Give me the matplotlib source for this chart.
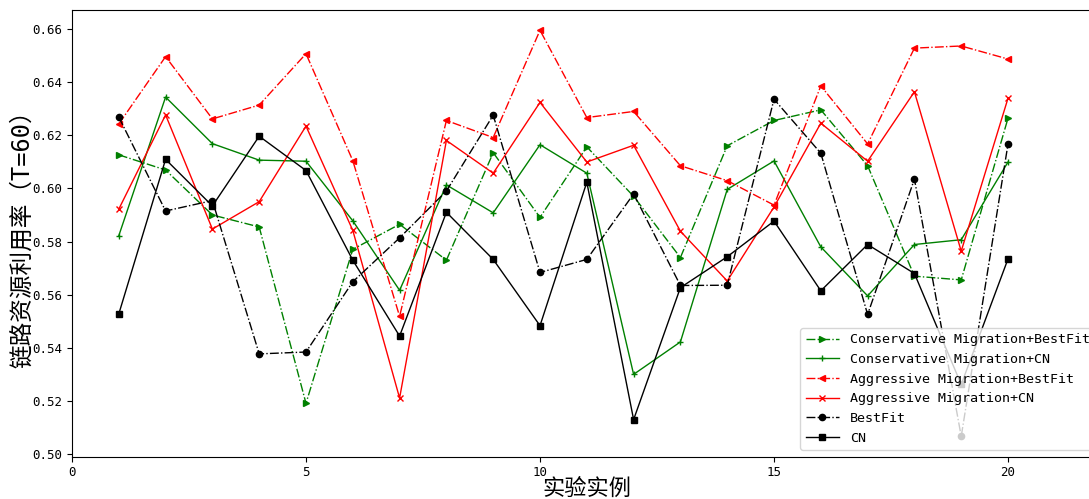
import matplotlib
matplotlib.use('Agg')
import matplotlib.pyplot as plt
from matplotlib.ticker import MultipleLocator

plt.rcParams['font.family'] = ['DejaVu Sans Mono', 'Noto Sans CJK SC']
plt.rcParams['axes.unicode_minus'] = False

# experiment instances
x = list(range(1, 21))

cons_bf = [0.6126, 0.6069, 0.5900, 0.5855, 0.5192, 0.5771, 0.5865, 0.5730, 0.6134, 0.5891,
           0.6156, 0.5970, 0.5740, 0.6160, 0.6255, 0.6295, 0.6085, 0.5670, 0.5656, 0.6264]
cons_cn = [0.5822, 0.6343, 0.6168, 0.6106, 0.6102, 0.5878, 0.5617, 0.6013, 0.5908, 0.6164,
           0.6057, 0.5301, 0.5423, 0.5996, 0.6103, 0.5780, 0.5596, 0.5789, 0.5807, 0.6099]
agg_bf = [0.6242, 0.6495, 0.6261, 0.6313, 0.6506, 0.6104, 0.5519, 0.6255, 0.6191, 0.6594,
          0.6266, 0.6289, 0.6085, 0.6029, 0.5937, 0.6385, 0.6167, 0.6527, 0.6535, 0.6486]
agg_cn = [0.5922, 0.6276, 0.5847, 0.5950, 0.6234, 0.5842, 0.5212, 0.6180, 0.6057, 0.6323,
          0.6099, 0.6162, 0.5839, 0.5652, 0.5930, 0.6245, 0.6102, 0.6363, 0.5764, 0.6339]
bestfit = [0.6268, 0.5915, 0.5954, 0.5378, 0.5385, 0.5649, 0.5814, 0.5990, 0.6275, 0.5684,
           0.5733, 0.5979, 0.5635, 0.5636, 0.6335, 0.6132, 0.5526, 0.6035, 0.5068, 0.6167]
cn = [0.5528, 0.6109, 0.5934, 0.6196, 0.6067, 0.5730, 0.5445, 0.5910, 0.5733, 0.5484,
      0.6023, 0.5131, 0.5627, 0.5743, 0.5877, 0.5615, 0.5789, 0.5680, 0.5263, 0.5735]

fig = plt.figure(figsize=(10.89, 4.99), dpi=100)
# axes run a little past the right edge, as in the cropped original
ax = fig.add_axes([0.0661, 0.0848, 0.9455, 0.8952])

ax.plot(x, cons_bf, 'g-.', marker='>', ms=5, lw=1, label='Conservative Migration+BestFit')
ax.plot(x, cons_cn, 'g-', marker='+', ms=4, lw=1, label='Conservative Migration+CN')
ax.plot(x, agg_bf, 'r-.', marker='<', ms=5, lw=1, label='Aggressive Migration+BestFit')
ax.plot(x, agg_cn, 'r-', marker='x', ms=4, lw=1, label='Aggressive Migration+CN')
ax.plot(x, bestfit, 'k-.', marker='o', ms=4.5, lw=1, label='BestFit')
ax.plot(x, cn, 'k-', marker='s', ms=4.5, lw=1, label='CN')

ax.set_xlim(0, 22)
ax.xaxis.set_major_locator(MultipleLocator(5))
ax.tick_params(labelsize=9)
ax.set_xlabel('实验实例', fontsize=16, labelpad=-1)
ax.set_ylabel('链路资源利用率（T=60）', fontsize=17, labelpad=-1)

ax.legend(loc='lower right', fontsize=9.6, handlelength=2.5)

fig.savefig('out.png', dpi=100)
